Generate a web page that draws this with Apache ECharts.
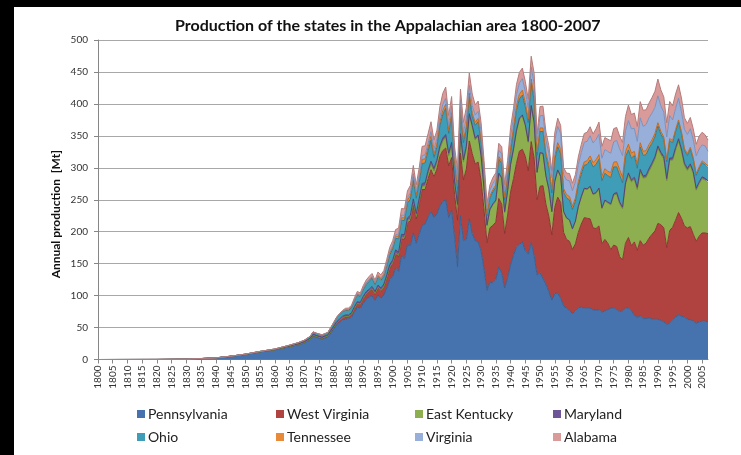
<!DOCTYPE html>
<html>
<head>
<meta charset="utf-8">
<script src="https://cdn.jsdelivr.net/npm/echarts@6/dist/echarts.min.js"></script>
<style>
  html, body { margin: 0; padding: 0; background: #000; width: 741px; height: 455px; overflow: hidden; }
  #chart { position: absolute; left: 14px; top: 7px; width: 727px; height: 448px; background: #fff; }
</style>
</head>
<body>
<div id="chart"></div>
<script>
// Years sampled: sparse before 1880, annual afterwards
const earlyYears = [1800, 1820, 1830, 1835, 1840, 1845, 1850, 1855, 1860, 1865, 1868, 1870, 1872, 1873, 1874, 1876, 1878];
const annualYears = [];
for (let y = 1880; y <= 2007; y++) annualYears.push(y);
const years = earlyYears.concat(annualYears);

// Annual production, Mt (early points followed by 1880..2007)
const pennsylvania = [
  0, 0.1, 0.5, 1.5, 2.5, 5, 8, 12, 15, 20, 23, 26, 31, 37, 35, 32, 35,
  48, 55, 58, 62, 63, 64, 66, 74, 82, 80,
  88, 94, 98, 100, 92, 101, 96, 101, 112, 125,
  130, 143, 138, 162, 158, 180, 178, 198, 182, 196,
  210, 212, 223, 232, 222, 228, 240, 247, 250, 222,
  234, 192, 145, 225, 186, 188, 220, 197, 186, 184,
  170, 142, 108, 121, 120, 125, 145, 135, 112, 128,
  148, 163, 176, 180, 184, 170, 165, 183, 163, 132,
  136, 127, 118, 106, 93, 103, 104, 96, 84, 80,
  77, 72, 76, 81, 82, 80, 81, 80, 78, 77,
  78, 74, 76, 78, 80, 81, 78, 75, 76, 80,
  81, 76, 69, 66, 68, 64, 64, 65, 63, 63,
  63, 61, 59, 55, 57, 62, 66, 70, 68, 66,
  63, 62, 60, 57, 59, 60, 60, 59
];
const westVirginia = [
  0, 0, 0, 0, 0, 0, 0, 0, 0.2, 0.3, 0.5, 0.6, 0.8, 1, 1, 1.2, 1.5,
  2, 2, 3, 3, 4, 3, 4, 5, 5, 6,
  7, 8, 8, 10, 10, 11, 11, 12, 15, 18,
  20, 22, 23, 27, 30, 34, 39, 44, 38, 47,
  56, 54, 60, 65, 64, 70, 78, 80, 81, 81,
  82, 66, 73, 98, 95, 110, 122, 125, 120, 125,
  110, 92, 75, 85, 90, 90, 107, 108, 85, 98,
  114, 120, 131, 146, 145, 148, 130, 158, 152, 118,
  135, 145, 125, 118, 102, 135, 150, 150, 115, 108,
  108, 100, 105, 118, 130, 142, 140, 140, 128, 128,
  131, 107, 112, 104, 92, 98, 99, 86, 80, 102,
  110, 102, 115, 105, 118, 115, 118, 125, 133, 138,
  150, 150, 147, 120, 145, 145, 152, 160, 153, 143,
  143, 146, 136, 128, 134, 138, 138, 138
];
const eastKentucky = [
  0, 0, 0, 0, 0, 0, 0, 0, 0, 0, 0, 0, 0.1, 0.1, 0.1, 0.1, 0.2,
  0.2, 0.2, 0.3, 0.3, 0.4, 0.4, 0.5, 0.5, 0.6, 0.6,
  0.7, 0.8, 0.8, 0.9, 0.9, 1, 1, 1.1, 1.2, 1.3,
  1.5, 1.8, 2, 2.5, 2.8, 3, 3.5, 4, 4, 4.5,
  5, 6, 8, 9, 9, 10, 12, 15, 17, 16,
  20, 18, 22, 27, 28, 33, 40, 42, 38, 40,
  37, 32, 26, 28, 32, 33, 38, 40, 33, 37,
  42, 45, 50, 50, 52, 48, 45, 55, 55, 42,
  52, 50, 44, 42, 36, 40, 42, 40, 32, 33,
  33, 32, 35, 40, 42, 45, 45, 50, 52, 55,
  58, 55, 60, 63, 70, 78, 82, 83, 80, 92,
  98, 100, 98, 95, 108, 105, 103, 105, 108, 113,
  118, 110, 108, 105, 110, 105, 110, 112, 105, 95,
  90, 95, 95, 80, 82, 85, 83, 80
];
const maryland = [
  0, 0, 0, 0, 0.1, 0.2, 0.3, 0.5, 0.7, 1, 1.2, 1.3, 1.5, 1.7, 1.8, 1.8, 2,
  2, 2.2, 2.3, 2.4, 2.5, 2.3, 2.5, 3, 3, 2.8,
  3, 3.3, 3.2, 3.5, 3.3, 3.5, 3.8, 4, 4.2, 4.3,
  4.2, 4.8, 4.9, 4.5, 4.5, 4.7, 5.2, 5.3, 4.4, 4.6,
  4.6, 4.5, 4.5, 4.4, 4.2, 4, 4.1, 4.5, 4.1, 3.8,
  3.8, 2.7, 2.7, 3.5, 3.3, 2.9, 2.7, 2.5, 2.4, 2.4,
  2.4, 2, 1.7, 1.5, 1.5, 1.5, 1.6, 1.5, 1.4, 1.5,
  1.6, 1.7, 1.8, 1.8, 1.8, 1.5, 1.5, 1.6, 1.5, 1.2,
  0.8, 0.7, 0.6, 0.5, 0.6, 0.6, 0.7, 0.8, 0.7, 0.7,
  0.7, 0.7, 0.7, 0.8, 0.9, 1, 1.1, 1.2, 1.2, 1.3,
  1.4, 1.5, 1.5, 1.6, 1.8, 2.3, 2.6, 2.8, 2.5, 2.7,
  3, 3, 3.2, 3.4, 3.5, 3.2, 3.6, 3.8, 3.5, 3.3,
  3.2, 3.5, 3.6, 3.2, 3.3, 3.4, 3.6, 3.5, 3.4, 3.3,
  3.2, 3.1, 3, 3, 3, 2.9, 2.7, 2.5
];
const ohio = [
  0, 0, 0, 0, 0, 0, 0.1, 0.2, 0.5, 1, 1.5, 2, 2.5, 3, 3, 3, 3,
  5, 6, 7, 7, 7, 7, 8, 9, 10, 9,
  10, 11, 12, 13, 11, 12, 12, 12, 14, 15,
  17, 18, 21, 22, 22, 23, 25, 29, 24, 25,
  31, 31, 31, 33, 17, 20, 31, 37, 41, 31,
  41, 29, 24, 36, 27, 26, 27, 14, 20, 21,
  21, 18, 14, 17, 19, 20, 22, 22, 18, 20,
  20, 27, 31, 30, 31, 28, 29, 35, 34, 26,
  33, 34, 31, 32, 29, 34, 36, 35, 30, 31,
  31, 30, 31, 33, 35, 36, 38, 41, 42, 44,
  45, 42, 42, 41, 41, 42, 40, 42, 38, 40,
  36, 34, 34, 30, 35, 32, 32, 32, 31, 31,
  31, 28, 27, 26, 27, 24, 25, 26, 24, 20,
  20, 23, 19, 20, 21, 22, 21, 21
];
const tennessee = [
  0, 0, 0, 0, 0, 0, 0, 0, 0, 0.1, 0.2, 0.2, 0.3, 0.3, 0.3, 0.4, 0.4,
  0.5, 0.6, 0.7, 0.8, 1, 1.1, 1.3, 1.5, 1.8, 2,
  2, 2.2, 2.4, 1.8, 2, 2.3, 2.4, 2.5, 2.8, 3,
  3.3, 3.3, 3.8, 4, 4.3, 4.8, 5.6, 6.2, 6, 6.2,
  6.4, 6.5, 5.5, 6.2, 5.2, 5.3, 5.9, 6.3, 6.3, 4.8,
  5.5, 4.5, 4.6, 5.3, 5, 5, 5.1, 5, 4.6, 5,
  4.6, 4.1, 3.3, 3.3, 3.6, 3.6, 4, 4.5, 4.2, 4.5,
  6, 6.6, 7.2, 7.3, 7.7, 7, 5.9, 6.4, 6.6, 5.5,
  5.5, 5.8, 5.3, 5.5, 5.3, 5.7, 6.6, 6.7, 5.8, 5.2,
  5.4, 5.2, 5, 5.5, 5.6, 5.2, 6, 6.3, 6.9, 7.2,
  7.2, 7.2, 7, 7, 7.5, 7.5, 8.2, 8.5, 8.6, 8.6,
  8.9, 8, 6.6, 6, 6.7, 6.5, 6.2, 5.6, 5.2, 5.5,
  5.4, 4.4, 3.6, 3, 3.5, 3.5, 3.4, 3.4, 3.2, 3.1,
  3, 3, 2.9, 2.7, 2.5, 2.9, 2.6, 2.4
];
const virginia = [
  0, 0, 0, 0, 0, 0, 0, 0, 0, 0, 0, 0, 0, 0, 0, 0.05, 0.05,
  0.05, 0.1, 0.1, 0.1, 0.3, 0.5, 0.6, 0.7, 0.8, 0.8,
  0.7, 0.7, 0.6, 0.8, 1, 1.1, 1.1, 1.2, 1.6, 2,
  2.2, 2.4, 3.5, 3.9, 3.9, 4.1, 4.2, 4.3, 4.2, 4.3,
  5.9, 6.4, 6.2, 7.1, 8, 8.1, 8.7, 9.5, 9.3, 8.9,
  10.1, 9.2, 9.6, 10.6, 11, 12, 12.2, 11.6, 11.4, 11,
  11, 10.2, 8.3, 9.2, 9.7, 9, 9.9, 10.8, 10.4, 11.2,
  16, 16.4, 17.4, 17.7, 18, 17.4, 17.4, 18.5, 19, 15.8,
  19.1, 19.6, 19.4, 18.4, 18.5, 24, 25.4, 25.2, 21.4, 23,
  24.4, 24.4, 25.3, 26.8, 28.3, 30.7, 30.4, 31.6, 30.7, 32,
  32, 28.3, 30, 31, 30.5, 32, 33, 32.5, 34, 33,
  37, 38, 36, 36, 39, 39, 41, 42, 42, 41,
  42, 40, 39, 36, 36, 32, 33, 34, 31, 30,
  30, 29, 28, 28, 28, 25, 27, 23
];
const alabama = [
  0, 0, 0, 0, 0, 0, 0, 0, 0, 0, 0.05, 0.1, 0.1, 0.2, 0.2, 0.2, 0.3,
  0.3, 0.4, 0.8, 1.2, 2, 2.2, 1.7, 2.8, 3.3, 3,
  4.1, 4.3, 5, 4.6, 4.1, 5, 5.2, 5.4, 6.1, 6.9,
  7.7, 8.1, 9.4, 10.4, 10.2, 10.1, 11.8, 12.9, 10.8, 12.3,
  14.7, 14, 15, 15.4, 13.9, 13.2, 15.4, 17.2, 17.6, 14,
  15.1, 11.3, 16, 17.9, 15.8, 17.7, 19.3, 18.4, 16.1, 16.1,
  14.6, 11.1, 7.7, 8.3, 9, 10, 10.8, 11.2, 9.9, 11.2,
  15.1, 13.4, 16, 16.5, 16.5, 15.5, 13.6, 17.1, 17, 12.5,
  14.5, 14.3, 13, 12.1, 11.2, 12.4, 12.9, 12.6, 11.4, 10.8,
  11.6, 11.5, 11.5, 12, 12.8, 13.8, 14.3, 14.1, 14.1, 16.5,
  19, 18.5, 18.8, 19.2, 19.5, 20.4, 20.4, 19.9, 20.7, 21.9,
  24.3, 22.3, 24, 23.4, 25.4, 25.4, 22.9, 23, 24.3, 24.9,
  26.3, 25, 23.7, 22.1, 22, 22, 22.5, 21, 21.5, 18,
  17.3, 17.7, 17, 18, 20, 19.8, 17.5, 17.3
];

const stateNames = ['Pennsylvania', 'West Virginia', 'East Kentucky', 'Maryland',
                    'Ohio', 'Tennessee', 'Virginia', 'Alabama'];
const stateValues = [pennsylvania, westVirginia, eastKentucky, maryland,
                     ohio, tennessee, virginia, alabama];
const fillColors = ['#4673AE', '#B0433F', '#8DAF4F', '#6E5597',
                    '#3F9DB8', '#E98A3A', '#98AFD9', '#D89B9A'];
const edgeColors = ['#3A5F90', '#8E3431', '#6F8C3B', '#56427A',
                    '#2F7D93', '#C06A25', '#7A91BC', '#B57B7A'];

const FONT = 'Lato, "Open Sans", sans-serif';

// Rows are [production, year] so the first numeric dimension (the one ECharts
// stacks on) is the y value; encode maps the year back onto the x axis.
const series = stateNames.map((name, k) => ({
  name: name,
  type: 'line',
  stack: 'total',
  symbol: 'none',
  encode: { x: 1, y: 0 },
  data: years.map((y, i) => [stateValues[k][i], y]),
  lineStyle: { width: 1, color: edgeColors[k] },
  areaStyle: { color: fillColors[k], opacity: 1 },
  itemStyle: { color: fillColors[k] },
  z: 2
}));

// Legend: two rows of four fixed columns
const legendColumns = [118, 257, 396, 534];
const legendRows = [395, 418];
const legends = stateNames.map((name, k) => ({
  data: [name],
  left: legendColumns[k % 4],
  top: legendRows[Math.floor(k / 4)],
  icon: 'rect',
  itemWidth: 8,
  itemHeight: 8,
  itemGap: 4,
  selectedMode: false,
  textStyle: { fontFamily: FONT, fontSize: 14, color: '#222', padding: [0, 0, 0, -2] }
}));

const chart = echarts.init(document.getElementById('chart'), null, { renderer: 'canvas' });
chart.setOption({
  animation: false,
  backgroundColor: '#fff',
  title: {
    text: 'Production of the states in the Appalachian area 1800-2007',
    left: 156,
    top: 6,
    textStyle: { fontFamily: FONT, fontSize: 16, fontWeight: 'bold', color: '#111' }
  },
  legend: legends,
  grid: { left: 84, right: 33, top: 33, bottom: 95.5 },
  xAxis: {
    type: 'value',
    min: 1800,
    max: 2007,
    interval: 5,
    axisLine: { lineStyle: { color: '#868686', width: 1 } },
    axisTick: { show: true, length: 4, lineStyle: { color: '#868686' } },
    axisLabel: {
      rotate: 90,
      fontFamily: FONT,
      fontSize: 10,
      color: '#333',
      margin: 6,
      showMaxLabel: false,
      formatter: v => String(v)
    },
    splitLine: { show: false }
  },
  yAxis: {
    type: 'value',
    min: 0,
    max: 500,
    interval: 50,
    axisLine: { show: true, lineStyle: { color: '#868686', width: 1 } },
    axisTick: { show: true, length: 4, lineStyle: { color: '#868686' } },
    axisLabel: { fontFamily: FONT, fontSize: 10, color: '#333', margin: 10 },
    splitLine: { lineStyle: { color: '#A8A8A8', width: 1 } }
  },
  graphic: [{
    type: 'text',
    left: 36,
    top: 143,
    rotation: Math.PI / 2,
    style: {
      text: 'Annual production  [Mt]',
      fontFamily: FONT,
      fontSize: 12,
      fontWeight: 'bold',
      fill: '#111'
    }
  }],
  series: series
});
</script>
</body>
</html>
